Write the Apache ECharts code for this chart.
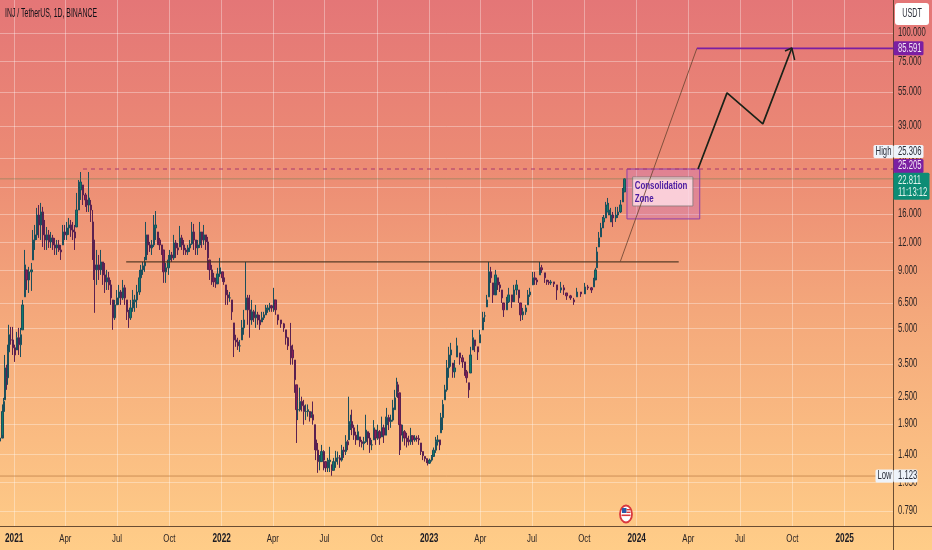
<!DOCTYPE html>
<html><head><meta charset="utf-8">
<style>html,body{margin:0;padding:0;background:#fff}#c{width:932px;height:550px}</style>
<script src="https://cdn.jsdelivr.net/npm/echarts@6/dist/echarts.min.js"></script>
</head><body><div id="c"></div>
<script>
const title='INJ / TetherUS, 1D, BINANCE';
const yTicks=[100,75,55,39,28,21,16,12,9,6.5,5,3.5,2.5,1.9,1.4,1.05,0.79];
const xTicks=['2021-01-01','2021-04-01','2021-07-01','2021-10-01','2022-01-01','2022-04-01','2022-07-01','2022-10-01','2023-01-01','2023-04-01','2023-07-01','2023-10-01','2024-01-01','2024-04-01','2024-07-01','2024-10-01','2025-01-01'];
const xLabels=['2021','Apr','Jul','Oct','2022','Apr','Jul','Oct','2023','Apr','Jul','Oct','2024','Apr','Jul','Oct','2025'];
const startDate='2020-12-07';
const candleDays=[0,4,7,9,12,14,16,19,23,26,30,33,37,40,44,47,51,55,58,62,65,69,72,76,79,83,86,90,93,97,100,104,107,111,114,118,121,125,128,132,135,139,142,146,150,153,157,160,164,165,167,171,174,178,181,185,188,192,195,199,202,206,209,213,216,220,223,227,230,234,237,241,245,248,252,255,257,260,264,267,271,274,278,281,285,288,292,296,299,303,306,310,313,317,320,324,327,331,334,338,341,345,348,352,355,359,362,366,369,373,376,380,383,387,391,394,398,401,405,408,412,415,419,422,426,429,433,436,440,443,447,450,454,457,461,464,468,471,475,478,482,485,489,494,500,503,507,512,515,519,522,524,528,531,535,538,542,545,549,551,554,556,559,563,566,570,573,577,580,584,587,591,595,598,602,605,609,612,614,617,619,623,626,630,633,637,640,644,647,651,654,658,661,665,668,672,675,679,681,684,688,691,695,698,700,703,705,709,712,716,719,723,726,730,733,737,741,744,748,751,753,756,760,763,767,770,774,776,779,783,786,790,793,797,800,804,809,814,818,821,825,828,832,836,841,844,850,853,857,860,864,867,872,876,880,883,886,892,895,901,904,909,913,916,920,925,929,932,938,941,945,950,953,959,962,966,969,975,980,987,992,997,1004,1010,1015,1022,1029,1034,1041,1045,1048,1050,1054,1057,1061,1062,1066,1069,1071,1075,1078,1084,1087,1092,1096,1099];
const highs=[1.74,2.32,2.48,3.83,3.47,4.25,5.2,5.09,5.09,4.25,4.84,5.04,5.04,6.69,11.1,9.07,9.35,9.73,13.59,14.3,17.0,17.5,17.88,17.17,15.04,14.01,13.59,13.32,12.93,12.54,12.28,12.28,11.68,14.3,14.3,14.74,15.35,15.04,14.74,14.3,19.78,22.55,24.45,21.44,19.78,19.38,24.45,18.42,16.64,13.59,11.44,11.1,10.55,11.1,9.83,9.73,9.07,8.89,8.19,6.69,6.69,7.4,7.79,7.4,8.19,7.79,6.69,6.05,6.69,7.4,7.04,7.79,9.07,9.54,9.83,10.34,14.74,12.93,12.04,12.28,15.82,16.47,13.32,12.54,11.68,11.1,9.73,10.55,11.1,10.88,12.93,12.28,11.92,14.16,12.93,12.28,11.33,11.68,12.28,14.74,14.45,12.28,12.28,14.74,13.32,14.3,12.93,12.67,10.03,9.54,8.8,8.37,9.26,10.24,8.89,8.45,7.79,7.4,7.25,6.69,5.3,4.7,4.56,4.46,5.46,6.05,9.83,7.04,7.04,6.69,6.05,6.36,5.93,5.75,5.93,5.93,6.36,6.36,6.49,6.36,7.56,6.69,5.75,5.46,5.3,4.94,4.6,5.3,4.25,3.64,2.83,2.43,2.75,2.51,2.43,2.32,2.32,2.16,2.16,2.39,1.89,1.79,1.57,1.39,1.54,1.46,1.3,1.35,1.51,1.26,1.35,1.45,1.44,1.39,1.54,1.51,1.7,1.62,2.51,2.09,2.2,1.89,1.76,1.89,1.67,1.62,1.67,2.09,1.76,1.74,1.62,1.98,1.79,1.89,1.79,2.05,1.89,2.05,2.24,2.09,2.09,2.43,2.69,3.04,2.92,2.61,1.95,1.89,1.79,1.74,1.69,1.83,1.69,1.7,1.69,1.7,1.57,1.44,1.37,1.34,1.31,1.34,1.39,1.5,1.67,1.7,1.62,2.13,2.43,2.83,3.64,4.16,4.33,3.53,3.64,4.56,3.91,3.83,3.57,3.29,2.89,4.16,4.94,4.46,4.16,4.94,5.93,5.93,7.04,9.83,9.35,7.95,9.07,8.37,8.03,7.4,6.49,6.9,7.56,7.04,7.79,8.19,7.4,6.49,6.17,6.36,7.4,7.56,8.89,8.89,8.37,9.83,9.54,8.8,8.19,8.19,8.19,8.03,7.79,8.03,7.79,7.18,7.04,6.83,7.56,7.25,7.95,7.79,7.63,8.37,9.26,11.44,13.32,14.6,15.5,15.82,18.06,18.8,17.88,17.0,16.31,17.17,17.17,18.42,20.8,23.0];
const lows=[1.56,1.7,1.98,2.43,2.69,2.83,3.64,4.25,3.83,3.57,4.03,3.83,3.75,4.94,6.9,7.4,7.18,7.33,10.03,11.1,12.28,12.54,12.28,11.44,11.1,11.1,11.33,11.33,11.1,10.55,10.55,10.88,10.03,11.68,12.28,12.28,12.93,12.67,12.28,11.1,14.01,16.64,18.42,17.5,17.17,16.31,16.31,14.74,10.03,8.19,5.87,7.79,8.19,8.62,7.79,7.18,7.4,7.4,6.36,4.94,5.46,6.36,6.36,6.36,6.69,6.36,5.46,5.04,5.46,5.93,5.93,6.17,7.04,7.79,8.62,8.89,10.03,10.55,10.88,10.55,11.44,12.28,11.68,11.1,10.55,7.95,7.95,8.62,9.83,9.83,10.03,10.24,10.55,11.44,11.1,10.55,10.55,10.55,10.88,11.68,11.1,10.55,10.55,11.33,11.33,11.68,11.1,9.07,8.19,7.79,7.63,7.56,8.03,8.45,8.03,7.79,6.36,6.36,6.56,5.46,3.75,4.16,4.03,3.95,4.46,4.7,6.05,5.2,4.56,5.2,5.35,5.04,5.2,4.94,5.35,5.46,5.75,5.87,5.93,5.93,5.93,5.75,5.2,5.04,4.84,4.25,4.03,3.47,3.47,2.61,1.57,1.98,2.16,2.16,1.89,1.98,2.05,1.95,2.03,1.89,1.46,1.32,1.16,1.19,1.3,1.19,1.17,1.17,1.17,1.123,1.19,1.22,1.26,1.22,1.3,1.35,1.39,1.46,1.62,1.79,1.7,1.62,1.54,1.65,1.51,1.5,1.46,1.57,1.54,1.42,1.46,1.62,1.54,1.62,1.54,1.67,1.57,1.7,1.79,1.79,1.83,1.95,2.2,2.51,2.48,1.39,1.46,1.59,1.53,1.5,1.53,1.54,1.54,1.59,1.59,1.54,1.39,1.32,1.3,1.28,1.25,1.27,1.3,1.38,1.42,1.53,1.46,1.74,1.79,2.43,2.64,3.04,3.4,3.04,3.04,3.75,3.47,3.36,3.1,2.89,2.48,3.19,4.03,3.95,3.64,4.33,5.09,5.35,6.23,6.9,7.95,6.49,7.95,7.4,7.25,6.49,5.63,6.05,6.49,6.17,6.83,7.04,6.49,5.4,5.46,5.75,6.36,6.9,7.79,7.79,7.79,8.62,8.8,7.95,7.79,7.79,7.79,7.63,6.69,7.18,7.04,6.69,6.69,6.36,6.9,6.9,7.25,7.4,7.18,7.63,8.37,9.26,11.44,12.67,13.87,14.3,15.35,16.31,15.82,14.74,14.01,14.74,15.35,16.15,18.06,19.98];
const closes=[1.65,2.16,2.39,3.36,3.04,3.95,4.7,4.46,4.12,3.83,4.56,4.25,4.7,6.36,9.54,8.19,8.89,9.07,12.28,12.93,15.82,14.3,16.31,12.93,12.28,12.93,12.04,12.54,11.68,11.33,11.68,11.1,10.88,13.32,12.93,13.87,14.3,13.59,13.32,12.54,16.64,20.38,22.1,19.38,18.42,17.5,18.8,16.64,12.28,9.54,9.07,9.54,9.07,9.83,8.62,8.03,8.37,7.79,6.83,5.58,6.36,6.83,7.25,6.83,7.56,6.83,5.93,5.58,6.17,6.56,6.69,7.25,8.37,9.07,9.45,9.83,12.93,11.68,11.33,11.68,13.87,14.3,12.28,11.68,11.1,8.89,9.26,10.03,10.55,10.24,11.92,11.33,11.1,12.54,11.68,11.1,10.88,11.33,11.8,13.32,12.28,11.33,11.68,13.32,12.28,12.93,12.04,10.24,9.07,8.37,8.03,7.87,8.71,9.26,8.37,8.03,7.04,6.83,6.83,5.93,4.46,4.37,4.2,4.2,5.04,5.46,6.83,6.05,5.46,5.93,5.58,5.75,5.46,5.2,5.58,5.75,6.05,6.17,6.3,6.17,6.69,6.05,5.46,5.25,5.04,4.56,4.2,4.03,3.72,2.98,2.2,2.2,2.39,2.29,2.16,2.16,2.2,2.03,2.09,1.98,1.62,1.46,1.3,1.3,1.44,1.32,1.22,1.3,1.32,1.19,1.3,1.35,1.35,1.32,1.46,1.44,1.59,1.54,1.89,1.95,1.83,1.7,1.62,1.76,1.59,1.56,1.59,1.79,1.65,1.54,1.54,1.83,1.65,1.76,1.65,1.83,1.7,1.89,2.03,1.95,1.98,2.24,2.48,2.83,2.64,1.89,1.7,1.76,1.65,1.62,1.59,1.69,1.62,1.65,1.64,1.62,1.44,1.38,1.34,1.31,1.28,1.32,1.37,1.46,1.59,1.62,1.54,2.03,2.32,2.69,3.36,3.83,4.03,3.23,3.36,4.2,3.72,3.57,3.23,3.04,2.69,3.83,4.56,4.2,3.95,4.7,5.58,5.69,6.69,8.89,8.37,7.04,8.62,7.79,7.56,6.83,6.05,6.56,7.04,6.56,7.4,7.79,6.83,5.75,5.93,6.17,7.04,7.25,8.37,8.19,8.03,9.26,9.07,8.37,8.03,7.95,8.03,7.87,7.4,7.56,7.4,6.97,6.83,6.56,7.25,7.11,7.63,7.56,7.4,8.19,9.07,10.88,12.54,13.87,14.74,15.35,17.0,17.52,16.64,15.82,15.35,15.82,16.31,17.52,19.98,22.811];
const opens=[1.6,1.65,2.16,2.43,3.36,3.04,3.95,4.46,4.46,4.12,4.03,4.56,4.25,4.94,6.9,9.07,8.19,8.89,10.03,12.28,12.93,15.82,14.3,16.31,12.93,12.28,12.93,12.04,12.54,11.68,11.33,11.68,11.1,11.68,13.32,12.93,13.87,14.3,13.59,13.32,14.01,16.64,20.38,21.44,19.38,18.42,17.5,17.5,14.74,12.28,9.54,9.07,9.54,9.07,9.83,8.62,8.03,8.37,7.79,6.69,5.58,6.36,6.83,7.25,6.83,7.56,6.69,5.93,5.58,6.17,6.56,6.69,7.25,8.37,9.07,9.45,10.03,12.93,11.68,11.33,11.68,13.87,13.32,12.28,11.68,11.1,8.89,9.26,10.03,10.55,10.24,11.92,11.33,11.44,12.54,11.68,11.1,10.88,11.33,11.8,13.32,12.28,11.33,11.68,13.32,12.28,12.93,12.04,10.03,9.07,8.37,8.03,7.87,8.71,8.89,8.37,7.79,7.04,6.83,6.69,5.3,4.46,4.37,4.2,4.46,5.04,6.05,6.83,6.05,5.46,5.93,5.58,5.75,5.46,5.35,5.58,5.75,6.05,6.17,6.3,6.17,6.69,5.75,5.46,5.25,4.94,4.56,4.2,4.03,3.64,2.83,2.2,2.2,2.39,2.29,2.16,2.16,2.16,2.03,2.09,1.89,1.62,1.46,1.3,1.3,1.44,1.3,1.22,1.3,1.26,1.19,1.3,1.35,1.35,1.32,1.46,1.44,1.59,1.62,1.89,1.95,1.83,1.7,1.62,1.67,1.59,1.56,1.59,1.76,1.65,1.54,1.62,1.79,1.65,1.76,1.67,1.83,1.7,1.89,2.03,1.95,1.98,2.2,2.51,2.83,2.61,1.89,1.7,1.76,1.65,1.62,1.59,1.69,1.62,1.65,1.64,1.57,1.44,1.37,1.34,1.31,1.28,1.32,1.37,1.46,1.59,1.62,1.74,2.03,2.43,2.69,3.36,3.83,3.53,3.23,3.75,3.91,3.72,3.57,3.23,2.89,3.19,4.03,4.46,4.16,4.33,4.94,5.69,6.23,6.9,8.89,7.95,7.04,8.37,7.79,7.4,6.49,6.05,6.56,7.04,6.56,7.4,7.4,6.49,5.75,5.93,6.36,7.04,7.79,8.37,8.19,8.62,9.26,8.8,8.19,8.03,7.95,8.03,7.79,7.4,7.56,7.18,6.97,6.69,6.9,7.25,7.11,7.63,7.56,7.63,8.19,9.26,11.44,12.67,13.87,14.74,15.35,16.31,15.82,14.74,15.82,15.35,15.82,16.31,18.06,19.98];
const supportLevel=9.83, highLevel=25.205, priceLevel=22.811, lowLevel=1.123, targetLevel=85.591, axisHigh=25.306;
const supportDays=[222,1194];
const riseDays=[1091,1226], risePrices=[supportLevel,targetLevel];
const targetDays=[1226,1571];
const pathDays=[1228,1279,1342,1393], pathPrices=[25.2,54.5,39.8,85.9];
const headDays=[1381,1393,1398], headPrices=[83.3,85.9,76.1];
const zoneDays=[1103,1231], zonePrices=[25.205,15.2];
const noteDays=[1113,1219], notePrices=[23.25,17.33], noteLines=['Consolidation','Zone'];
const domain=[0,1571], yRange=[0.677,139.7];

const FONT='"Liberation Sans",sans-serif';
[highs,lows,closes,opens].forEach((a,i)=>{if(a.length!==candleDays.length)throw new Error('len '+i+' '+a.length+' vs '+candleDays.length);});
const candles=candleDays.map((n,i)=>[n,opens[i],closes[i],lows[i],highs[i]]);
const xTickDays=xTicks.map(s=>Math.round((Date.parse(s)-Date.parse(startDate))/86400000));
const line=(days,prices,style)=>({type:'line',silent:true,symbol:'none',animation:false,z:style.z||5,
  data:days.map((n,i)=>[n,prices[i]]),lineStyle:{color:style.color,width:style.width,type:style.type||'solid'}});
const ink='rgba(80,55,35,0.85)';
const gridW='rgba(255,255,255,0.34)';

const zoneSeries=line([],[],{color:'#000',width:0,z:6});
zoneSeries.markArea={silent:true,animation:false,data:[[
  {coord:[zoneDays[0],zonePrices[0]],itemStyle:{color:'rgba(195,110,215,0.30)',borderColor:'#8e3fa8',borderWidth:1}},
  {coord:[zoneDays[1],zonePrices[1]]}
]]};
const noteSeries=line([],[],{color:'#000',width:0,z:7});
noteSeries.markArea={silent:true,animation:false,data:[[
  {coord:[noteDays[0],notePrices[0]],itemStyle:{color:'rgba(255,222,232,0.82)',borderColor:'rgba(130,120,120,0.8)',borderWidth:1}},
  {coord:[noteDays[1],notePrices[1]]}
]]};

const chart=echarts.init(document.getElementById('c'),null,{renderer:'canvas'});
chart.setOption({
  animation:false,
  backgroundColor:{type:'linear',x:0,y:0,x2:0,y2:1,colorStops:[
    {offset:0,color:'#e47677'},{offset:0.3,color:'#ec8b74'},{offset:0.6,color:'#f5ab7c'},{offset:1,color:'#ffcd88'}]},
  tooltip:{show:false},
  grid:{left:0,right:39,top:0,bottom:24,outerBoundsMode:'none'},
  xAxis:{type:'value',min:domain[0],max:domain[1],
    axisLine:{show:false},axisTick:{show:false,customValues:xTickDays},
    splitLine:{show:true,lineStyle:{color:gridW,width:1}},
    axisLabel:{show:false,customValues:xTickDays}},
  yAxis:{type:'log',logBase:10,position:'right',min:yRange[0],max:yRange[1],
    axisLine:{show:false},axisTick:{show:false,customValues:yTicks},
    splitLine:{show:true,lineStyle:{color:gridW,width:1}},
    axisLabel:{show:false,customValues:yTicks}},
  series:[
    {type:'candlestick',data:candles,barWidth:2,z:3,silent:true,animation:false,large:false,clip:true,
      itemStyle:{color:'#0f7d69',color0:'#8a1e55',borderColor:'#1c4f5c',borderColor0:'#5b2150',borderWidth:1}},
    line(supportDays,[supportLevel,supportLevel],{color:'rgba(70,50,30,0.9)',width:1.3}),
    line(riseDays,risePrices,{color:'rgba(110,70,50,0.85)',width:1}),
    line(targetDays,[targetLevel,targetLevel],{color:'#7b1fa2',width:1.6}),
    line([146,domain[1]],[highLevel,highLevel],{color:'#a8386f',width:1,type:[4,4]}),
    line(domain,[priceLevel,priceLevel],{color:'rgba(90,125,80,0.45)',width:1}),
    line(domain,[lowLevel,lowLevel],{color:'rgba(190,125,70,0.75)',width:1}),
    zoneSeries,noteSeries,
    line(pathDays,pathPrices,{color:'#1a2218',width:1.7,z:8}),
    line(headDays,headPrices,{color:'#1a2218',width:1.5,z:8})
  ]
});

// Text is squeezed horizontally in the reference, so labels are placed through the chart's own scales and narrowed.
const px=(x,y)=>chart.convertToPixel({gridIndex:0},[x,y]);
const AX=893.5, BASE=526.5;
const txt=(x,y,text,o)=>({type:'text',silent:true,z:(o&&o.z)||6,x,y,scaleX:(o&&o.sx)||0.67,
  style:{text,fontFamily:FONT,fontSize:(o&&o.size)||12,fontWeight:(o&&o.weight)||'normal',fill:(o&&o.fill)||'#2b2424',
    align:(o&&o.align)||'left',verticalAlign:'middle'}});
const tagBox=(price,dy,w,h,left,text,bg,fg)=>{
  const cy=px(0,price)[1]+dy, x0=left?AX-w:AX;
  return [{type:'rect',silent:true,z:8,shape:{x:x0,y:cy-h/2,width:w,height:h,r:1.5},style:{fill:bg}},
    left?txt(x0+w/2,cy,text,{align:'center',fill:fg,z:9,sx:0.64}):txt(x0+4.5,cy,text,{fill:fg,z:9,sx:0.64})];
};
const els=[
  {type:'line',silent:true,z:3,shape:{x1:AX,y1:0,x2:AX,y2:550},style:{stroke:ink,lineWidth:1}},
  {type:'line',silent:true,z:3,shape:{x1:0,y1:BASE,x2:932,y2:BASE},style:{stroke:ink,lineWidth:1}},
  {type:'rect',silent:true,z:10,shape:{x:895,y:3,width:34,height:22,r:3},style:{fill:'#fff'}},
  txt(912,14,'USDT',{align:'center',fill:'#2a2e39',z:11,sx:0.6}),
  txt(5,14,title,{size:12,sx:0.575,fill:'#111118',z:11}),
  {type:'ellipse',silent:true,z:10,shape:{cx:626,cy:514,rx:6,ry:8.5},style:{fill:'#fff',stroke:'#d9383e',lineWidth:1.8}},
  {type:'rect',silent:true,z:11,shape:{x:622,y:508,width:4.5,height:5},style:{fill:'#2a5aa8'}},
  {type:'rect',silent:true,z:11,shape:{x:626.5,y:509,width:4,height:1.4},style:{fill:'#d9383e'}},
  {type:'rect',silent:true,z:11,shape:{x:626.5,y:511.6,width:4,height:1.4},style:{fill:'#d9383e'}},
  {type:'rect',silent:true,z:11,shape:{x:621.5,y:514.5,width:9,height:1.6},style:{fill:'#d9383e'}}
];
yTicks.forEach(v=>els.push(txt(AX+4.5,px(0,v)[1],v.toFixed(3),{sx:0.64})));
xTickDays.forEach((n,i)=>{const s=xLabels[i],yr=/^\d/.test(s);
  els.push(txt(px(n,1)[0],539,s,yr?{align:'center',weight:'bold',size:12.5,fill:'#1c1c24',sx:0.66}:{align:'center',size:11.5,sx:0.68}));});
const noteP=px(noteDays[0],notePrices[0]);
noteLines.forEach((s,i)=>els.push(txt(noteP[0]+2,noteP[1]+9+i*12.5,s,{weight:'bold',size:11,sx:0.72,fill:'#4a1aa0',z:9})));
els.push(...tagBox(targetLevel,0,30,14,false,'85.591','#7b1fa2','#f2e4f5'));
els.push(...tagBox(axisHigh,-17,30,13,false,'25.306','#eef3fa','#2a2e39'));
els.push(...tagBox(axisHigh,-17,20,13,true,'High','#eef3fa','#2a2e39'));
els.push(...tagBox(highLevel,-3,30,14,false,'25.205','#7b1fa2','#f2e4f5'));
els.push(...tagBox(priceLevel,7.5,36,27,false,'22.811\n11:13:12','#0d8c75','#e4f5ef'));
els.push(...tagBox(lowLevel,0,24,13,false,'1.123','#eef3fa','#2a2e39'));
els.push(...tagBox(lowLevel,0,18,13,true,'Low','#eef3fa','#2a2e39'));
chart.setOption({graphic:els});
</script></body></html>
